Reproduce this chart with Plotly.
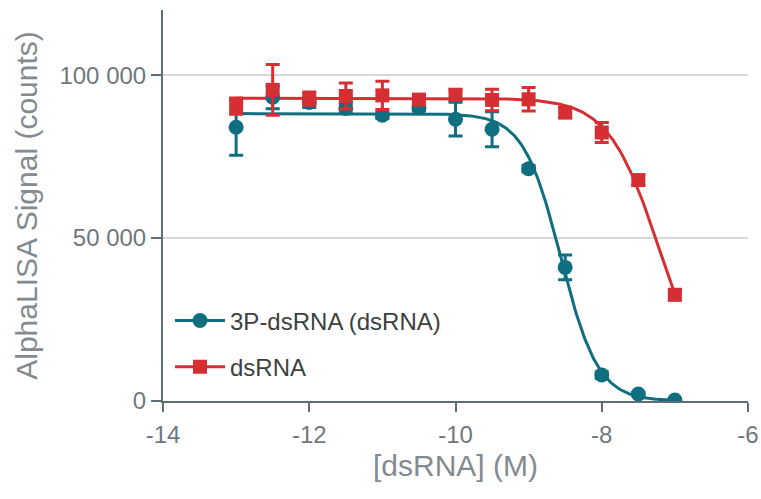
import numpy as np
import plotly.graph_objects as go

# ---- data ----
log_conc = [-13, -12.5, -12, -11.5, -11, -10.5, -10, -9.5, -9, -8.5, -8, -7.5, -7]

p3_signal = [84000, 93200, 91600, 89800, 87700, 90000, 86500, 83400, 71300, 41000, 8000, 2150, 300]
p3_err = [8600, 3500, 1500, 1500, 1000, 1000, 5200, 5400, 1000, 3800, 1000, 500, 500]

ds_signal = [90500, 95500, 92800, 93600, 93800, 92500, 94000, 92400, 92600, 88500, 82400, 67800, 32600]
ds_err = [2500, 7800, 2000, 4000, 4300, 1500, 1500, 3300, 3600, 1500, 3100, 1500, 1500]

# 4-parameter logistic fit parameters (top, bottom, logIC50, hill)
p3_fit = dict(top=88200, bottom=0, logic50=-8.56, hill=1.7)
ds_fit = dict(top=92900, bottom=0, logic50=-7.21, hill=1.25)

y_ticks = [0, 50000, 100000]
y_tick_text = ["0", "50 000", "100 000"]
x_ticks = [-14, -12, -10, -8, -6]
x_tick_text = ["-14", "-12", "-10", "-8", "-6"]

names = ["3P-dsRNA (dsRNA)", "dsRNA"]
TEAL = "#0f6f80"
RED = "#d62f33"


def logistic(x, top, bottom, logic50, hill):
    return bottom + (top - bottom) / (1 + 10 ** ((x - logic50) * hill))


xfit = np.linspace(min(log_conc), max(log_conc), 300)

fig = go.Figure()

series = [
    (names[0], p3_signal, p3_err, p3_fit, TEAL, "circle"),
    (names[1], ds_signal, ds_err, ds_fit, RED, "square"),
]

# fitted curves first (beneath markers)
for name, sig, err, fit, col, sym in series:
    fig.add_trace(go.Scatter(
        x=xfit, y=logistic(xfit, **fit), mode="lines",
        line=dict(color=col, width=3), showlegend=False, hoverinfo="skip"))

for name, sig, err, fit, col, sym in series:
    fig.add_trace(go.Scatter(
        x=log_conc, y=sig, mode="markers",
        marker=dict(color=col, symbol=sym, size=15 if sym == "circle" else 14, line=dict(width=0)),
        error_y=dict(type="data", array=err, visible=True, color=col, thickness=3, width=7),
        showlegend=False))

# legend entries
for i, (name, sig, err, fit, col, sym) in enumerate(series):
    fig.add_trace(go.Scatter(
        x=[None], y=[None], mode="lines+markers", name=name,
        legendgroup=f"g{i}",
        line=dict(color=col, width=3),
        marker=dict(color=col, symbol=sym, size=15 if sym == "circle" else 14)))

axis_col = "#5f6d75"
tick_font = dict(family="Liberation Sans, Arial, sans-serif", size=24, color="#6f787d")
title_font = dict(family="Liberation Sans, Arial, sans-serif", size=30, color="#838b90")

fig.update_layout(
    width=761, height=499,
    margin=dict(l=163, r=13, t=10, b=98),
    paper_bgcolor="white", plot_bgcolor="white",
    font=dict(family="Liberation Sans, Arial, sans-serif"),
    showlegend=True,
    legend=dict(
        x=0.012, y=0.146, xanchor="left", yanchor="middle",
        font=dict(size=24, color="#3d3f40", family="Liberation Sans, Arial, sans-serif"),
        bgcolor="rgba(0,0,0,0)", traceorder="grouped", tracegroupgap=12,
        itemwidth=50,
    ),
    xaxis=dict(
        range=[-14.0001, -5.9999], tickvals=x_ticks, ticktext=x_tick_text, ticks="outside",
        ticklen=9, tickwidth=2, automargin=False, ticklabelstandoff=2,
        tickcolor=axis_col, showline=True, linecolor=axis_col, linewidth=2,
        showgrid=False, zeroline=False, tickfont=tick_font,
        title=dict(text="[dsRNA] (M)", font=title_font, standoff=8),
    ),
    yaxis=dict(
        range=[0, 120000], tickvals=y_ticks, ticktext=y_tick_text, ticks="outside",
        ticklen=10, tickwidth=2, tickcolor=axis_col, showline=True, linecolor=axis_col,
        linewidth=2, showgrid=True, gridcolor="#d6d8d9", gridwidth=2, zeroline=False,
        tickfont=tick_font, automargin=False,
        title=dict(text="AlphaLISA Signal (counts)", font=title_font, standoff=13),
    ),
)

fig.write_html("out.html", config={"displayModeBar": False},
               post_script="document.body.style.margin='0';")
